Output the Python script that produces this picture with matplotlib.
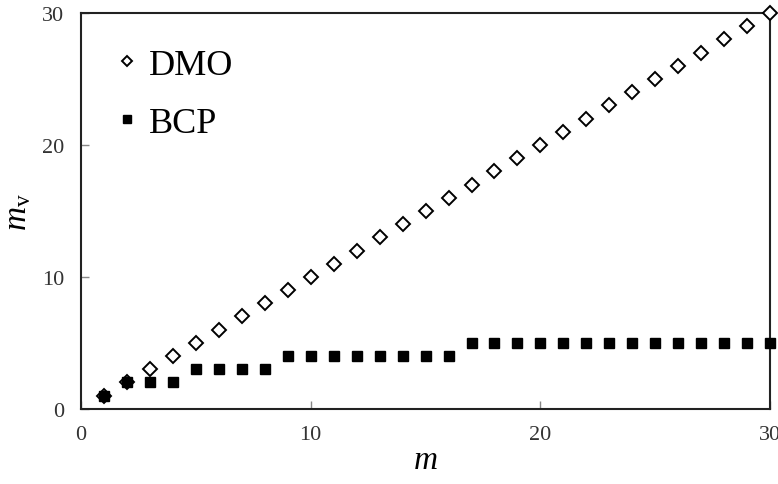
import matplotlib
matplotlib.use("Agg")
import matplotlib.pyplot as plt

m = list(range(1, 31))
dmo = [1, 2, 3, 4, 5, 6, 7, 8, 9, 10, 11, 12, 13, 14, 15,
       16, 17, 18, 19, 20, 21, 22, 23, 24, 25, 26, 27, 28, 29, 30]
bcp = [1, 2, 2, 2, 3, 3, 3, 3, 4, 4, 4, 4, 4, 4, 4,
       4, 5, 5, 5, 5, 5, 5, 5, 5, 5, 5, 5, 5, 5, 5]
ticks = [0, 10, 20, 30]

plt.rcParams["font.family"] = "Liberation Serif"
plt.rcParams["mathtext.fontset"] = "custom"
plt.rcParams["mathtext.it"] = "Liberation Serif:italic"
plt.rcParams["mathtext.rm"] = "Liberation Serif"

fig = plt.figure(figsize=(7.78, 4.85), dpi=100)
ax = fig.add_axes([0.104, 0.155, 0.886, 0.816])

ax.plot(m, dmo, "D", linestyle="none", markersize=7, markerfacecolor="white",
        markeredgecolor="black", markeredgewidth=1.4, clip_on=False, zorder=3,
        label="DMO")
ax.plot(m, bcp, "s", linestyle="none", markersize=7.5, color="black",
        clip_on=False, zorder=4, label="BCP")

ax.set_xlim(0, 30)
ax.set_ylim(0, 30)
ax.set_xticks(ticks)
ax.set_yticks(ticks)
ax.tick_params(direction="in", length=6, width=1, color="#888888",
               labelsize=16, labelcolor="#333333", pad=12)
for s in ax.spines.values():
    s.set_linewidth(1.5)
    s.set_color("#222222")

ax.set_xlabel(r"$m$", fontsize=24, labelpad=0)
ax.set_ylabel(r"$m_{\mathrm{v}}$", fontsize=24, labelpad=6)

ax.legend(loc="upper left", frameon=False, fontsize=26, markerscale=0.8,
          handlelength=0.6, handletextpad=0.3, labelspacing=0.7,
          borderaxespad=0.3, bbox_to_anchor=(0.015, 0.975))

fig.savefig("out.png", dpi=100)
